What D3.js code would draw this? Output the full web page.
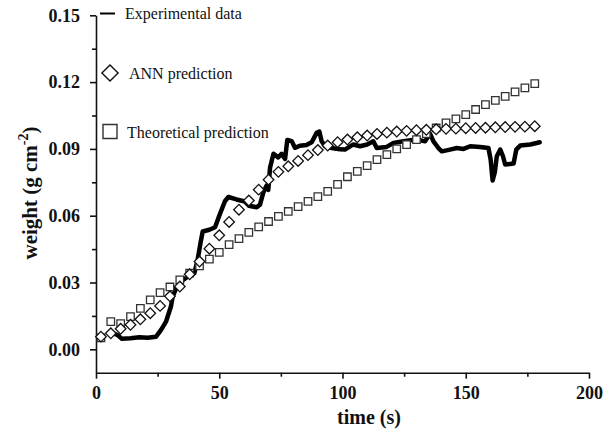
<!DOCTYPE html>
<html>
<head>
<meta charset="utf-8">
<script src="https://cdn.jsdelivr.net/npm/d3@7"></script>
<style>
  body { margin: 0; background: #fff; }
  svg { display: block; }
</style>
</head>
<body>
<script>
// sample times shared by both prediction series
var sampleT = [2, 6, 10, 14, 18, 22, 26, 30, 34, 38, 42, 46, 50, 54, 58, 62, 66, 70, 74, 78, 82, 86, 90,
  94, 98, 102, 106, 110, 114, 118, 122, 126, 130, 134, 138, 142, 146, 150, 154, 158, 162, 166, 170, 174, 178];

var annValues = [0.0057, 0.0072, 0.0092, 0.0110, 0.0135, 0.0162, 0.0195, 0.0238, 0.0282, 0.0337, 0.0394,
  0.0452, 0.0512, 0.0572, 0.0627, 0.0668, 0.0717, 0.0762, 0.0797, 0.0822, 0.0846, 0.0872, 0.0895,
  0.0915, 0.0930, 0.0942, 0.0952, 0.0960, 0.0967, 0.0973, 0.0978, 0.0981, 0.0984, 0.0986, 0.0988,
  0.0990, 0.0991, 0.0993, 0.0994, 0.0995, 0.0997, 0.0998, 0.0999, 0.1000, 0.1002];

var theoValues = [0.0051, 0.0124, 0.0115, 0.0147, 0.0184, 0.0222, 0.0255, 0.0280, 0.0312, 0.0342, 0.0375,
  0.0405, 0.0435, 0.0470, 0.0497, 0.0525, 0.0550, 0.0574, 0.0597, 0.0619, 0.0641, 0.0664, 0.0686,
  0.0709, 0.0741, 0.0775, 0.0799, 0.0825, 0.0852, 0.0874, 0.0900, 0.0919, 0.0942, 0.0969, 0.0994,
  0.1017, 0.1035, 0.1054, 0.1077, 0.1099, 0.1118, 0.1136, 0.1156, 0.1174, 0.1193];

// experimental trace (time, weight)
var expT = [7, 8.8, 10.4, 14, 17.6, 21, 24.3, 26.4, 28.4, 30.4, 31.1, 32.5, 35.2, 37.2, 39.9, 41.2, 42.6,
  43.3, 46, 48.3, 50, 52.3, 53.7, 57, 60.4, 62, 65.2, 66.5, 67.9, 69.2, 69.9, 70.6, 72, 73.9, 75.3, 76.7,
  77.6, 79.4, 80.7, 82.7, 85.4, 87.5, 89.5, 90.6, 91.5, 92.9, 95.6, 99, 101, 104.4, 107.1, 110, 112.5,
  113.9, 117.9, 120.7, 124.7, 130.1, 133.5, 135.5, 136.9, 138.9, 140.3, 143.6, 146.4, 149.1, 151.8,
  155.8, 159.2, 160.1, 160.9, 161.8, 162.6, 164, 165.1, 166, 169.4, 170.5, 172.1, 176.2, 180];
var expV = [0.0072, 0.0064, 0.0048, 0.0050, 0.0054, 0.0052, 0.0056, 0.0087, 0.0124, 0.0192, 0.0237, 0.0274,
  0.0310, 0.0326, 0.0342, 0.0400, 0.0490, 0.0529, 0.0537, 0.0548, 0.0600, 0.0665, 0.0684, 0.0673, 0.0664,
  0.0645, 0.0638, 0.0649, 0.0705, 0.0735, 0.0716, 0.0815, 0.0878, 0.0862, 0.0878, 0.0855, 0.0940, 0.0935,
  0.0905, 0.0914, 0.0918, 0.0930, 0.0972, 0.0978, 0.0935, 0.0912, 0.0904, 0.0898, 0.0897, 0.0920, 0.0912,
  0.0920, 0.0934, 0.0904, 0.0909, 0.0927, 0.0934, 0.0942, 0.0934, 0.0969, 0.0934, 0.0904, 0.0889, 0.0897,
  0.0904, 0.0900, 0.0912, 0.0909, 0.0904, 0.0852, 0.0758, 0.0795, 0.0867, 0.0897, 0.0867, 0.0830, 0.0834,
  0.0897, 0.0915, 0.0920, 0.0930];

var xTicks = [0, 50, 100, 150, 200];
var xMinor = [25, 75, 125, 175];
var yTicks = [0, 0.03, 0.06, 0.09, 0.12, 0.15];
var yMinor = [0.015, 0.045, 0.075, 0.105, 0.135];

var legendLabels = ["Experimental data", "ANN prediction", "Theoretical prediction"];

var W = 616, H = 435;
var serif = "'Liberation Serif', 'Times New Roman', serif";

var svg = d3.select("body").append("svg")
  .attr("width", W)
  .attr("height", H);

var x = d3.scaleLinear().domain([0, 200]).range([96, 589]);
var y = d3.scaleLinear().domain([-0.0105, 0.15]).range([372.7, 15.3]);

// minor ticks first, then the labelled axes on top
svg.append("g")
  .attr("transform", "translate(0," + y.range()[0] + ")")
  .call(d3.axisBottom(x).tickValues(xMinor).tickSize(4).tickSizeOuter(0).tickFormat(""))
  .call(function (g) { g.select(".domain").remove(); });

svg.append("g")
  .attr("transform", "translate(" + x.range()[0] + ",0)")
  .call(d3.axisLeft(y).tickValues(yMinor).tickSize(4).tickSizeOuter(0).tickFormat(""))
  .call(function (g) { g.select(".domain").remove(); });

var xAxis = svg.append("g")
  .attr("transform", "translate(0," + y.range()[0] + ")")
  .call(d3.axisBottom(x).tickValues(xTicks).tickSize(6).tickSizeOuter(0).tickPadding(8).tickFormat(d3.format("d")));

var yAxis = svg.append("g")
  .attr("transform", "translate(" + x.range()[0] + ",0)")
  .call(d3.axisLeft(y).tickValues(yTicks).tickSize(6).tickSizeOuter(0).tickPadding(10).tickFormat(d3.format(".2f")));

svg.selectAll(".domain, .tick line")
  .attr("stroke", "#111")
  .attr("stroke-width", 1.6);

svg.selectAll(".tick text")
  .attr("font-family", serif)
  .attr("font-weight", "bold")
  .attr("font-size", 18)
  .attr("fill", "#111");

// axis titles
svg.append("text")
  .attr("x", 369)
  .attr("y", 424)
  .attr("text-anchor", "middle")
  .attr("font-family", serif)
  .attr("font-weight", "bold")
  .attr("font-size", 20)
  .attr("fill", "#111")
  .text("time (s)");

var yTitle = svg.append("text")
  .attr("transform", "translate(37,193) rotate(-90)")
  .attr("text-anchor", "middle")
  .attr("font-family", serif)
  .attr("font-weight", "bold")
  .attr("font-size", 21)
  .attr("fill", "#111");
yTitle.append("tspan").text("weight (g cm");
yTitle.append("tspan").attr("dy", -9).attr("font-size", 14).text("-2");
yTitle.append("tspan").attr("dy", 9).text(")");

// experimental line
var expData = expT.map(function (t, i) { return [t, expV[i]]; });
svg.append("path")
  .datum(expData)
  .attr("d", d3.line().x(function (d) { return x(d[0]); }).y(function (d) { return y(d[1]); }))
  .attr("fill", "none")
  .attr("stroke", "#000")
  .attr("stroke-width", 4.5)
  .attr("stroke-linejoin", "round")
  .attr("stroke-linecap", "round");

var square = d3.symbol().type(d3.symbolSquare);

// theoretical prediction (squares)
svg.append("g").selectAll("path")
  .data(sampleT.map(function (t, i) { return [t, theoValues[i]]; }))
  .enter()
  .append("path")
  .attr("d", square.size(56)())
  .attr("transform", function (d) { return "translate(" + x(d[0]) + "," + y(d[1]) + ")"; })
  .attr("fill", "#fff")
  .attr("stroke", "#333")
  .attr("stroke-width", 1.3);

// ANN prediction (diamonds = rotated squares)
svg.append("g").selectAll("path")
  .data(sampleT.map(function (t, i) { return [t, annValues[i]]; }))
  .enter()
  .append("path")
  .attr("d", square.size(56)())
  .attr("transform", function (d) { return "translate(" + x(d[0]) + "," + y(d[1]) + ") rotate(45)"; })
  .attr("fill", "#fff")
  .attr("stroke", "#111")
  .attr("stroke-width", 1.3);

// legend
var legend = svg.append("g");
legend.append("line")
  .attr("x1", 100).attr("x2", 115)
  .attr("y1", 13.5).attr("y2", 13.5)
  .attr("stroke", "#000").attr("stroke-width", 2);
legend.append("path")
  .attr("d", square.size(130)())
  .attr("transform", "translate(110,73) rotate(45)")
  .attr("fill", "#fff").attr("stroke", "#111").attr("stroke-width", 1.4);
legend.append("path")
  .attr("d", square.size(196)())
  .attr("transform", "translate(110,131.5)")
  .attr("fill", "#fff").attr("stroke", "#333").attr("stroke-width", 1.4);

var legendPos = [[125, 19], [129, 79], [127, 137.5]];
legend.selectAll("text")
  .data(legendLabels)
  .enter()
  .append("text")
  .attr("x", function (d, i) { return legendPos[i][0]; })
  .attr("y", function (d, i) { return legendPos[i][1]; })
  .attr("font-family", serif)
  .attr("font-size", 16)
  .attr("fill", "#111")
  .text(function (d) { return d; });
</script>
</body>
</html>
